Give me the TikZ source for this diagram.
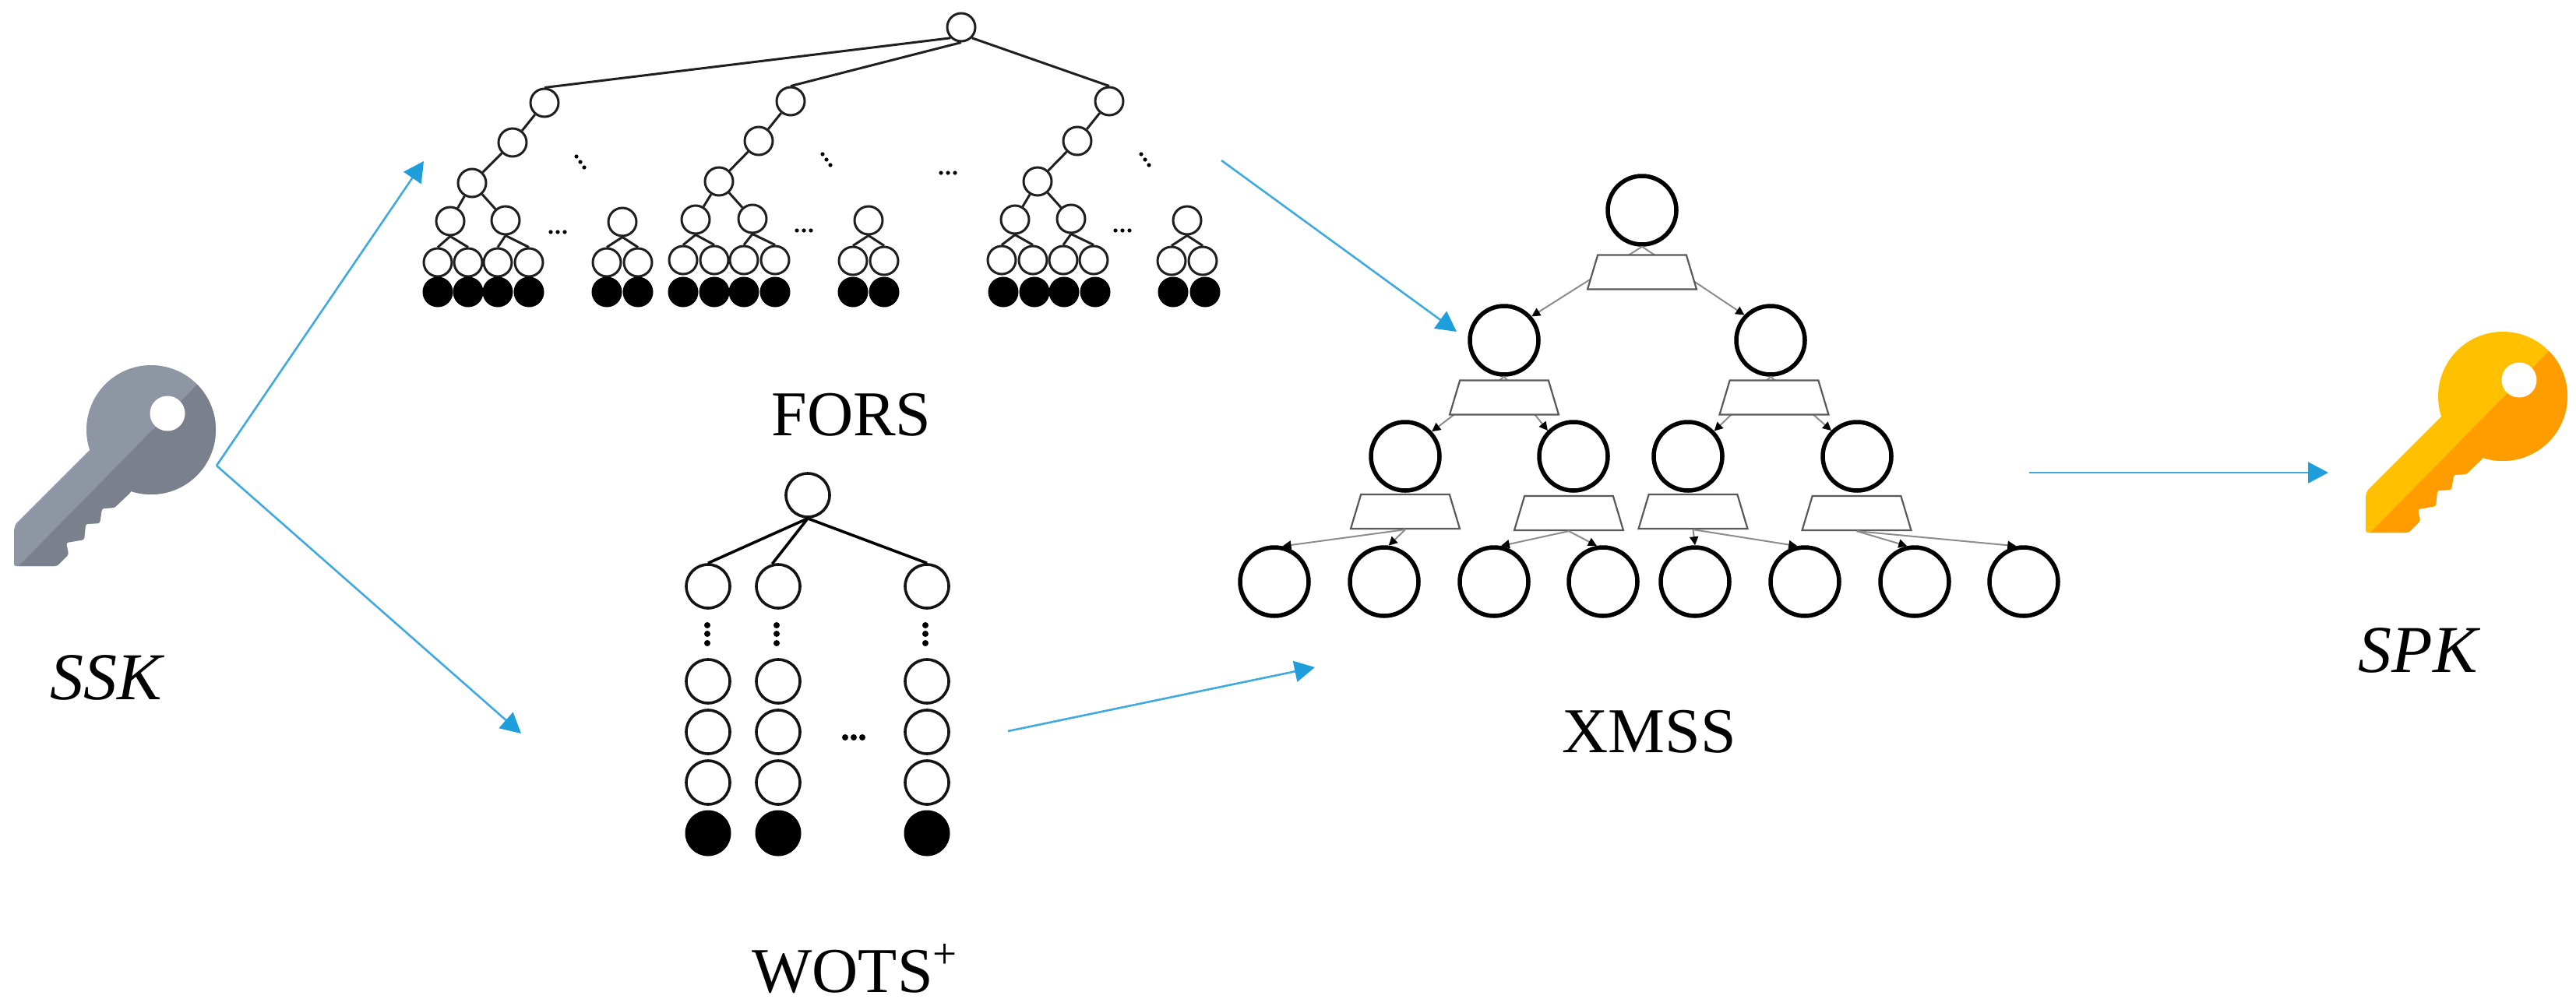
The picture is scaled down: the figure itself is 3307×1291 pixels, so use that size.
\documentclass[tikz,border=0pt]{standalone}
\usepackage{fontspec}
\setmainfont{Liberation Serif}
\usetikzlibrary{arrows.meta,shapes.geometric}
\definecolor{flow}{HTML}{3FA9E0}
\definecolor{flowtip}{HTML}{1E9FDC}
\definecolor{keygl}{HTML}{8E96A3}
\definecolor{keygd}{HTML}{7B818C}
\definecolor{keyyl}{HTML}{FFC000}
\definecolor{keyyd}{HTML}{FF9C00}
\tikzset{
  fn/.style={circle,draw=black!88,fill=white,line width=3pt,minimum size=36pt,inner sep=0pt},
  fb/.style={circle,draw=black,fill=black,line width=1pt,minimum size=38pt,inner sep=0pt},
  fe/.style={line width=3pt,draw=black!88},
  wn/.style={circle,draw=black!92,fill=white,line width=3.6pt,minimum size=56pt,inner sep=0pt},
  wb/.style={circle,draw=black,fill=black,line width=1pt,minimum size=58pt,inner sep=0pt},
  xn/.style={circle,draw=black,fill=white,line width=5.5pt,minimum size=88pt,inner sep=0pt},
  xt/.style={trapezium,trapezium stretches=true,trapezium left angle=83,trapezium right angle=83,
     draw=black!65,fill=white,line width=2.2pt,minimum height=44pt,minimum width=140pt,inner sep=1pt},
  xe/.style={draw=black!45,line width=2pt,-{Triangle[length=11pt,width=11pt,fill=black,color=black]}},
  flowarrow/.style={draw=flow,line width=2.6pt,-{Triangle[length=26pt,width=27pt,fill=flowtip,color=flowtip]}},
  lbl/.style={anchor=base,inner sep=0pt,font=\fontsize{82}{90}\selectfont},
  lblm/.style={anchor=base,inner sep=0pt,font=\fontsize{86}{90}\selectfont\itshape},
}
\newcommand{\keyshaft}{(115,578) -- (20,673) -- (18,680) -- (18,727) -- (73,727) -- (88,712) -- (85,697) -- (108,693) -- (110,673) -- (128,672) -- (131,653) -- (147,652) -- (168,632) -- (194,552) -- cycle}
\newcommand{\keyicon}[2]{%
  \fill[#1] (194,552) circle[radius=83pt];
  \fill[#1,rounded corners=2.5pt] \keyshaft;
  \begin{scope}
    \clip (18,733) -- (260,487) -- (300,487) -- (300,733) -- cycle;
    \fill[#2] (194,552) circle[radius=83pt];
    \fill[#2,rounded corners=2.5pt] \keyshaft;
  \end{scope}
  \fill[white] (215,531) circle[radius=22.5pt];
}
\newcommand{\blank}{\phantom{x}}
\begin{document}
\begin{tikzpicture}[x=1pt,y=-1pt]
\useasboundingbox (0,0) rectangle (3307,1291);
% keys
\keyicon{keygl}{keygd}
\begin{scope}[shift={(3019,-43)}]
\keyicon{keyyl}{keyyd}
\end{scope}
\node[lblm] (ssk) at (136,898) {SSK};
\node[lblm] (spk) at (3104,863) {SPK};
% ---------- FORS
\node[fn] (top) at (1234,35) {};
\foreach \n/\x/\y in {a1/699/132,b1/658/183,c1/606/235,d11/578/284,d12/649/283,
  e111/562/337,e112/601/337,e121/639/337,e122/679/337,
  s1/799/285,s11/779/337,s12/819/337,
  a2/1015/130,b2/974/181,c2/923/233,d21/893/282,d22/966/281,
  e211/877/334,e212/917/334,e221/955/334,e222/995/334,
  s2/1115/283,s21/1095/335,s22/1135/335,
  a3/1424/130,b3/1383/181,c3/1332/233,d31/1303/282,d32/1375/281,
  e311/1286/334,e312/1326/334,e321/1365/334,e322/1404/334,
  s3/1524/283,s31/1504/335,s32/1544/335}
  {\node[fn] (\n) at (\x,\y) {};}
\foreach \n/\x in {k1/562,k2/601,k3/639,k4/679,k5/779,k6/819,k7/877,k8/917,k9/955,k10/995,
  k11/1095,k12/1135,k13/1288,k14/1328,k15/1366,k16/1406,k17/1506,k18/1547}
  {\node[fb] (\n) at (\x,375) {};}
\draw[fe] (top.225) -- (a1.north);
\draw[fe] (top.south) -- (a2.north);
\draw[fe] (top.315) -- (a3.north);
\foreach \t in {1,2,3}{
  \draw[fe] (a\t) -- (b\t);
  \draw[fe] (b\t) -- (c\t);
  \draw[fe] (c\t) -- (d\t1);
  \draw[fe] (c\t) -- (d\t2);
  \draw[fe] (d\t1.south) -- (e\t11.north);
  \draw[fe] (d\t1.south) -- (e\t12.north);
  \draw[fe] (d\t2.south) -- (e\t21.north);
  \draw[fe] (d\t2.south) -- (e\t22.north);
  \draw[fe] (s\t.south) -- (s\t1.north);
  \draw[fe] (s\t.south) -- (s\t2.north);
}
\foreach \x/\y in {716/298,1032/296,1441/296,1217/222}{
  \foreach \d in {-9,0,9} \fill (\x+\d,\y) circle[radius=2.6pt];
}
\foreach \x/\y in {745/208,1061/205,1470/205}{
  \fill (\x-5,\y-7) circle[radius=2.6pt];
  \fill (\x,\y) circle[radius=2.6pt];
  \fill (\x+5,\y+7) circle[radius=2.6pt];
}
\node[lbl] (forslabel) at (1093,559) {FORS};
% ---------- WOTS+
\node[wn] (wt) at (1037,636) {};
\foreach \c/\x in {p/909,q/999,r/1190}{
  \node[wn] (\c1) at (\x,753) {};
  \node[wn] (\c2) at (\x,875) {};
  \node[wn] (\c3) at (\x,940) {};
  \node[wn] (\c4) at (\x,1005) {};
  \node[wb] (\c5) at (\x,1070) {};
}
\draw[line width=3.6pt] (wt.south) -- (p1.north);
\draw[line width=3.6pt] (wt.south) -- (q1.105);
\draw[line width=3.6pt] (wt.south) -- (r1.north);
\foreach \x in {908,997,1188}{
  \foreach \y in {803,814,826} \fill (\x,\y) circle[radius=4pt];
}
\foreach \x in {1085,1096,1107} \fill (\x,947) circle[radius=4pt];
\node[lbl] (wotslabel) at (1097,1274) {WOTS\raisebox{31pt}{\fontsize{55}{60}\selectfont +}};
% ---------- XMSS
\node[xn] (x0) at (2108,270) {};
\node[xn] (x1) at (1931,437) {};
\node[xn] (x2) at (2273,437) {};
\node[xn] (x11) at (1804,586) {};
\node[xn] (x12) at (2020,586) {};
\node[xn] (x21) at (2167,586) {};
\node[xn] (x22) at (2384,586) {};
\foreach \i/\x in {1/1636,2/1777,3/1918,4/2058,5/2176,6/2317,7/2458,8/2598}
  {\node[xn] (l\i) at (\x,747) {};}
\draw[xe] (x0.south) -- (x1.41);
\draw[xe] (x0.south) -- (x2.136);
\draw[xe] (x1.south) -- (x11.43);
\draw[xe] (x1.south) -- (x12.135);
\draw[xe] (x2.south) -- (x21.44);
\draw[xe] (x2.south) -- (x22.135);
\node[xt] (t0) at (2108,349.5) {\blank};
\node[xt] (t1) at (1931,510.5) {\blank};
\node[xt] (t2) at (2277.5,510.5) {\blank};
\node[xt] (t11) at (1804,657) {\blank};
\node[xt] (t12) at (2014,659) {\blank};
\node[xt] (t21) at (2173.5,657) {\blank};
\node[xt] (t22) at (2383.5,659) {\blank};
\draw[xe] (t11.south) -- (l1.77);
\draw[xe] (t11.south) -- (l2.83);
\draw[xe] (t12.south) -- (l3.79);
\draw[xe] (t12.south) -- (l4.100);
\draw[xe] (t21.south) -- (l5.90);
\draw[xe] (t21.south) -- (l6.102);
\draw[xe] (t22.south) -- (l7.102);
\draw[xe] (t22.south) -- (l8.102);
\node[lbl] (xmsslabel) at (2117,966) {XMSS};
% ---------- flow arrows
\coordinate (sskout) at (278,598);
\coordinate (forsin) at (544,207);
\coordinate (wotsin) at (669,942);
\coordinate (forsout) at (1568,206);
\coordinate (xin1) at (1870,426);
\coordinate (wotsout) at (1294,939);
\coordinate (xin2) at (1688,857);
\coordinate (xout) at (2605,607);
\coordinate (spkin) at (2989,607);
\draw[flowarrow] (sskout) -- (forsin);
\draw[flowarrow] (sskout) -- (wotsin);
\draw[flowarrow] (forsout) -- (xin1);
\draw[flowarrow] (wotsout) -- (xin2);
\draw[flowarrow] (xout) -- (spkin);
\end{tikzpicture}
\end{document}
